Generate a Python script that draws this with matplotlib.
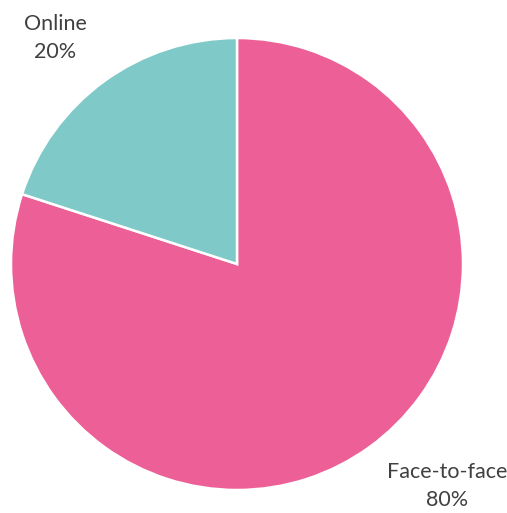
import matplotlib
matplotlib.use("Agg")
import matplotlib.pyplot as plt

categories = ["Face-to-face", "Online"]
shares = [80, 20]
colors = ["#EC6097", "#7FCAC8"]

W, H = 507, 513
fig = plt.figure(figsize=(W / 100, H / 100), dpi=100)
ax = fig.add_axes([0, 0, 1, 1])

cx, cy, r = 237, H - 264, 226
ax.pie(shares, colors=colors, startangle=90, counterclock=False,
       center=(cx, cy), radius=r,
       wedgeprops=dict(edgecolor="white", linewidth=1.8))
ax.set_xlim(0, W)
ax.set_ylim(0, H)
ax.set_aspect("equal")
ax.axis("off")

label_pos = {"Face-to-face": (447, H - 486), "Online": (55, H - 38)}
for name, val in zip(categories, shares):
    x, y = label_pos[name]
    ax.text(x, y, f"{name}\n{val}%", ha="center", va="center",
            fontsize=15.5, color="#404040", family="Lato", linespacing=1.45)

fig.savefig("out.png", dpi=100)
